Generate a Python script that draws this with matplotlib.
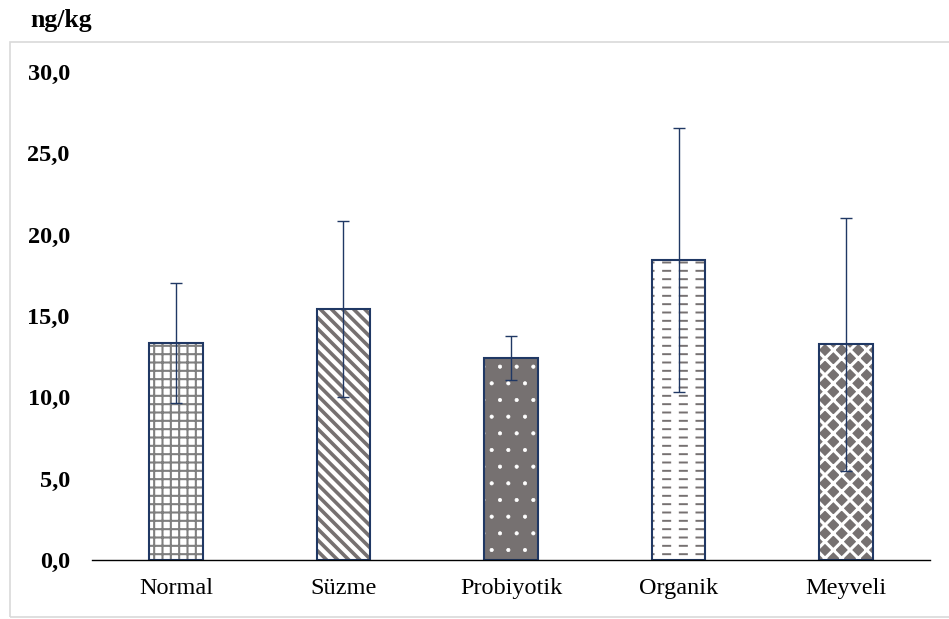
import matplotlib.pyplot as plt
from matplotlib.patches import Rectangle

plt.rcParams['font.family'] = ['Liberation Serif', 'DejaVu Serif']

categories = ['Normal', 'Süzme', 'Probiyotik', 'Organik', 'Meyveli']
means = [13.35, 15.45, 12.42, 18.45, 13.25]
errors = [3.7, 5.4, 1.35, 8.1, 7.8]
yticks = [0, 5, 10, 15, 20, 25, 30]

navy = '#203864'
gray = '#767171'

# (facecolor, hatch colour, hatch, hatch linewidth)
styles = [
    ('white', '#7f7f7f', '++', 1.5),
    ('white', gray, '\\\\\\', 2.6),
    (gray, 'white', '.', 0.5),
    ('white', gray, '--', 1.4),
    (gray, 'white', 'xx', 2.2),
]


def hatched_bar(ax, i, value, fc, hc, h, hlw):
    plt.rcParams['hatch.linewidth'] = hlw
    b = ax.bar(i, value, width=0.32, color=fc, edgecolor=hc, hatch=h, linewidth=0, zorder=2)
    for p in b:
        if hasattr(p, 'set_hatch_linewidth'):
            p.set_hatch_linewidth(hlw)
    return b


fig = plt.figure(figsize=(9.49, 6.19), dpi=100)
fig.patches.append(Rectangle((10 / 949, 1 - 617 / 619), 945 / 949, (617 - 42) / 619,
                             transform=fig.transFigure, facecolor='none',
                             edgecolor='#d9d9d9', linewidth=1.2))
ax = fig.add_axes([92 / 949, 1 - 560 / 619, (930 - 92) / 949, (560 - 72) / 619])

x = range(len(categories))
for i, (fc, hc, h, hlw) in enumerate(styles):
    hatched_bar(ax, i, means[i], fc, hc, h, hlw)
# cut the Organik lines into dashes
plt.rcParams['hatch.linewidth'] = 5.5
b = ax.bar(3, means[3], width=0.32, color='none', edgecolor='white', hatch='|', linewidth=0, zorder=2.5)
for p in b:
    if hasattr(p, 'set_hatch_linewidth'):
        p.set_hatch_linewidth(5.5)

ax.bar(x, means, width=0.32, facecolor='none', edgecolor=navy, linewidth=1.5, zorder=3)
ax.errorbar(x, means, yerr=errors, fmt='none', ecolor=navy, elinewidth=1.0,
            capsize=4.3, capthick=1.0, zorder=4)

ax.set_xlim(-0.5, 4.5)
ax.set_ylim(0, 30)
ax.set_yticks(yticks)
ax.set_yticklabels([f'{v:.1f}'.replace('.', ',') for v in yticks], fontsize=17.5, fontweight='bold')
ax.set_xticks(list(x))
ax.set_xticklabels(categories, fontsize=17.5)
ax.tick_params(axis='y', length=0, pad=16)
ax.tick_params(axis='x', length=0, pad=13)
for s in ['left', 'right', 'top']:
    ax.spines[s].set_visible(False)
ax.spines['bottom'].set_linewidth(1.0)
ax.spines['bottom'].set_zorder(5)

fig.text(30 / 949, 1 - 20 / 619, 'ng/kg', fontsize=18.5, fontweight='bold', va='center')

fig.savefig('out.png', dpi=100)
